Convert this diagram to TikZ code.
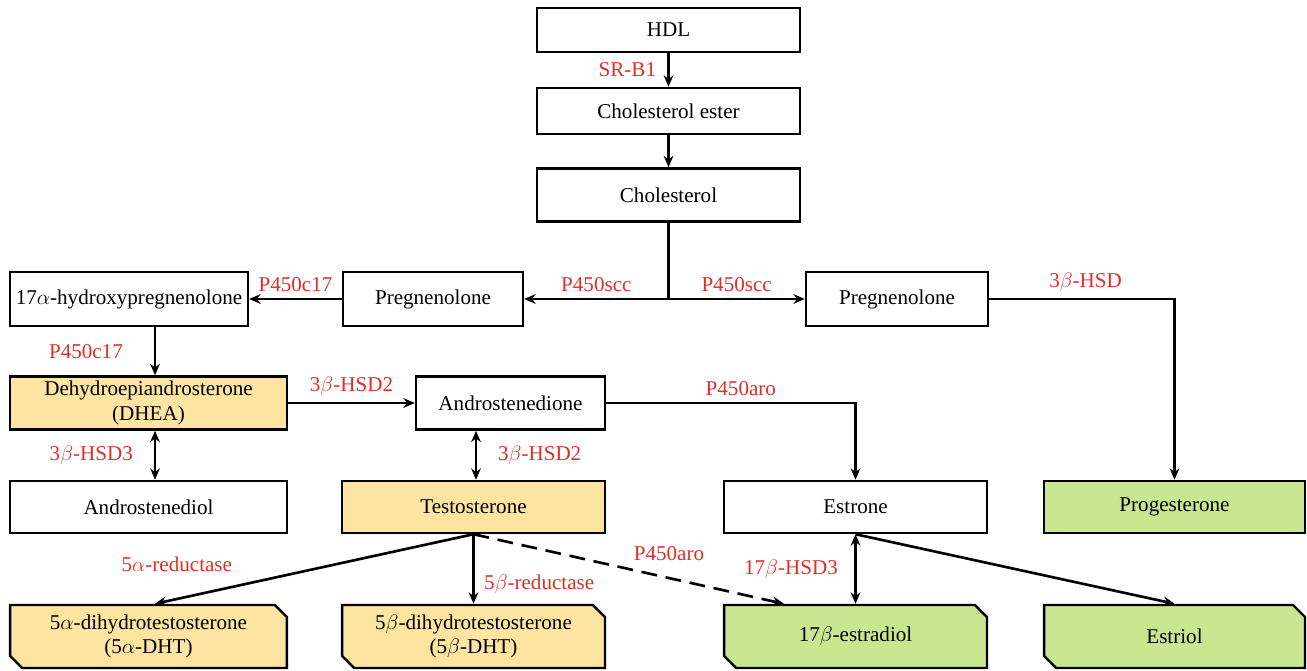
\documentclass[tikz,border=0pt]{standalone}
\usepackage{fontspec}
\setmainfont{Liberation Serif}
\usepackage{xcolor}
\usepackage{tikz}
\usetikzlibrary{positioning, arrows.meta, shapes.misc}

\definecolor{enzred}{RGB}{226,45,38}
\definecolor{boxyellow}{RGB}{253,228,160}
\definecolor{boxgreen}{RGB}{201,230,145}

\begin{document}
\begin{tikzpicture}[x=0.02cm, y=-0.02cm, >={Stealth[length=6.5pt, width=5.5pt]},
    every node/.style={align=center, font=\fontsize{12}{14}\selectfont},
    box/.style={rectangle, draw, line width=1.4pt, inner sep=2pt},
    chamf/.style={chamfered rectangle, chamfered rectangle corners={north east, south west},
      chamfered rectangle sep=0.12cm, draw, line width=1.4pt, inner sep=2pt},
    enz/.style={text=enzred},
    link/.style={line width=1.5pt}]
    \useasboundingbox (0,0) rectangle (1307,671);
    % top column
    \node[box, minimum width=5.26cm, minimum height=0.88cm] (hdl) at (668.5,30) {HDL};
    \node[box, minimum width=5.26cm, minimum height=0.92cm] (cholester) at (668.5,111) {Cholesterol ester};
    \node[box, minimum width=5.26cm, minimum height=1.06cm] (chol) at (668.5,195) {Cholesterol};
    % pregnenolone row
    \node[box, minimum width=4.76cm, minimum height=1.08cm] (hydroxy) at (129,299) {17$\alpha$-hydroxypregnenolone};
    \node[box, minimum width=3.6cm, minimum height=1.08cm] (pregL) at (433,299) {Pregnenolone};
    \node[box, minimum width=3.64cm, minimum height=1.08cm] (pregR) at (897,299) {Pregnenolone};
    % second row
    \node[box, fill=boxyellow, minimum width=5.54cm, minimum height=1.06cm] (dhea) at (148.5,403) {Dehydroepiandrosterone\\(DHEA)};
    \node[box, minimum width=3.78cm, minimum height=1.06cm] (dione) at (510.5,403) {Androstenedione};
    % third row
    \node[box, minimum width=5.54cm, minimum height=1.04cm] (diol) at (148.5,507) {Androstenediol};
    \node[box, fill=boxyellow, minimum width=5.26cm, minimum height=1.04cm] (testo) at (473.5,507) {Testosterone};
    \node[box, minimum width=5.26cm, minimum height=1.04cm] (estrone) at (855.5,507) {Estrone};
    \node[box, fill=boxgreen, minimum width=5.22cm, minimum height=1.04cm] (proge) at (1174.5,507) {Progesterone};
    % bottom row
    \node[chamf, fill=boxyellow, minimum width=5.54cm, minimum height=1.26cm] (dhtA) at (148.5,636.5) {5$\alpha$-dihydrotestosterone\\(5$\alpha$-DHT)};
    \node[chamf, fill=boxyellow, minimum width=5.26cm, minimum height=1.26cm] (dhtB) at (473.5,636.5) {5$\beta$-dihydrotestosterone\\(5$\beta$-DHT)};
    \node[chamf, fill=boxgreen, minimum width=5.26cm, minimum height=1.26cm] (estradiol) at (855.5,636.5) {17$\beta$-estradiol};
    \node[chamf, fill=boxgreen, minimum width=5.22cm, minimum height=1.26cm] (estriol) at (1174.5,636.5) {Estriol};
    % helper coordinates
    \coordinate (leftcol) at (155,0);
    \coordinate (midcol) at (476,0);
    \coordinate (split) at (chol.south |- pregL);
    % connectors
    \draw[link, ->] (hdl) -- (cholester) node[enz, midway, left=3pt] {SR-B1};
    \draw[link, ->] (cholester) -- (chol);
    \draw[link] (chol) -- (split);
    \draw[link, ->] (split) -- (pregL) node[enz, midway, above] {P450scc};
    \draw[link, ->] (split) -- (pregR) node[enz, midway, above] {P450scc};
    \draw[link, ->] (pregL) -- (hydroxy) node[enz, midway, above] {P450c17};
    \draw[link, ->] (hydroxy.south -| leftcol) -- (dhea.north -| leftcol) node[enz, midway, left=0.5cm] {P450c17};
    \draw[link, <->] (dhea.south -| leftcol) -- (diol.north -| leftcol) node[enz, midway, left=0.3cm] {3$\beta$-HSD3};
    \draw[link, ->] (dhea) -- (dione) node[enz, midway, above] {3$\beta$-HSD2};
    \draw[link, <->] (dione.south -| midcol) -- (testo.north -| midcol) node[enz, midway, right=0.3cm] {3$\beta$-HSD2};
    \draw[link, ->] (dione) -| (estrone) node[enz, pos=0.27, above] {P450aro};
    \draw[link, ->] (pregR) -| (proge) node[enz, pos=0.26, above] {3$\beta$-HSD};
    \draw[link, ->] (testo.south) -- (dhtA.north -| leftcol) node[enz, pos=0.72, above left=4pt] {5$\alpha$-reductase};
    \draw[link, ->] (testo) -- (dhtB) node[enz, pos=0.72, right=2pt] {5$\beta$-reductase};
    \draw[link, ->, dashed, dash pattern=on 9pt off 5pt] (testo.south) -- ([xshift=1.22cm]estradiol.north west) node[enz, pos=0.63, above=6pt] {P450aro};
    \draw[link, <->] (estrone) -- (estradiol) node[enz, midway, left=6pt] {17$\beta$-HSD3};
    \draw[link, ->] (estrone.south) -- (estriol.north);
\end{tikzpicture}
\end{document}
